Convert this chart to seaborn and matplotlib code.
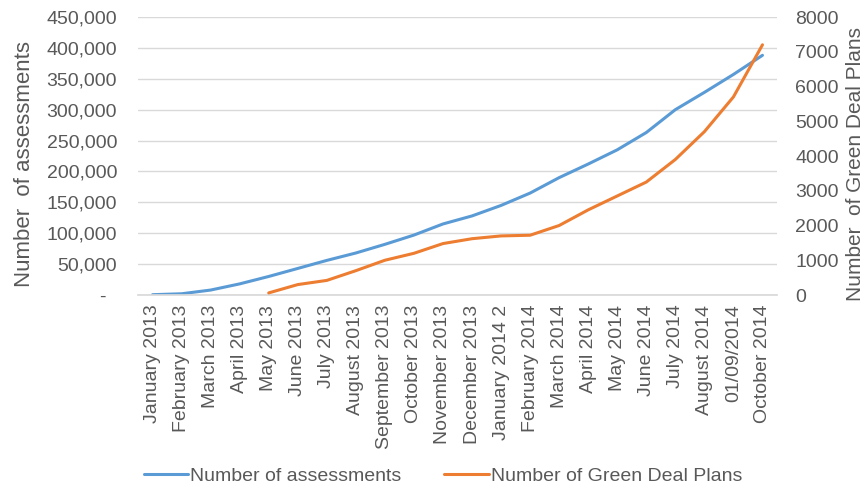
import matplotlib
matplotlib.use("Agg")
import matplotlib.pyplot as plt
import seaborn as sns
import pandas as pd
import numpy as np
from matplotlib.ticker import FuncFormatter, MultipleLocator

months = ["January 2013", "February 2013", "March 2013", "April 2013", "May 2013",
          "June 2013", "July 2013", "August 2013", "September 2013", "October 2013",
          "November 2013", "December 2013", "January 2014 2", "February 2014",
          "March 2014", "April 2014", "May 2014", "June 2014", "July 2014",
          "August 2014", "01/09/2014", "October 2014"]
assessments = [500, 2000, 8000, 18000, 30000, 43000, 56000, 68000, 82000, 97000,
               115000, 128000, 145000, 165000, 190000, 212000, 235000, 263000,
               300000, 328000, 357000, 388000]
gdp_plans = [np.nan, np.nan, np.nan, np.nan, 60, 300, 420, 700, 1000, 1200,
             1480, 1620, 1700, 1720, 2000, 2450, 2850, 3250, 3900, 4700, 5700, 7200]

sns.set_theme(style="white")
plt.rcParams['font.family'] = ['Liberation Sans', 'DejaVu Sans']
grey = "#595959"

df = pd.DataFrame({"x": np.arange(len(months)), "a": assessments, "g": gdp_plans})

W, H = 865, 490
fig = plt.figure(figsize=(W / 100, H / 100), dpi=100)
left, right, top, bottom = 138, 777, 17, 295
ax = fig.add_axes([left / W, 1 - bottom / H, (right - left) / W, (bottom - top) / H])
ax2 = ax.twinx()

blue = "#5B9BD5"
orange = "#ED7D31"
sns.lineplot(data=df, x="x", y="a", ax=ax, color=blue, lw=2.2,
             label="Number of assessments", legend=False)
sns.lineplot(data=df.dropna(), x="x", y="g", ax=ax2, color=orange, lw=2.2,
             label="Number of Green Deal Plans", legend=False)

ax.set_xlim(-0.5, len(months) - 0.5)
ax.set_ylim(0, 450000)
ax2.set_ylim(0, 8000)
ax.yaxis.set_major_locator(MultipleLocator(50000))
ax2.yaxis.set_major_locator(MultipleLocator(1000))
ax.yaxis.set_major_formatter(FuncFormatter(lambda v, p: "-  " if v == 0 else f"{int(v):,}"))
ax.set_xticks(df["x"])
ax.set_xticklabels(months, rotation=90, fontsize=14, color=grey)
ax.tick_params(axis="y", labelsize=14, colors=grey, length=0, pad=15)
ax.tick_params(axis="x", length=0, pad=7)
ax2.tick_params(axis="y", labelsize=14, colors=grey, length=0, pad=13)
ax.grid(axis="y", color="#D9D9D9", lw=1)
ax.set_xlabel("")
ax.set_ylabel("Number  of assessments", fontsize=16, color=grey, labelpad=8)
ax2.set_ylabel("Number  of Green Deal Plans", fontsize=15, color=grey, labelpad=5)
ax.yaxis.label.set_y(0.47)
ax2.yaxis.label.set_y(0.47)
for a in (ax, ax2):
    for s in a.spines.values():
        s.set_visible(False)
ax.spines["bottom"].set_visible(True)
ax.spines["bottom"].set_color("#D9D9D9")

h1, l1 = ax.get_legend_handles_labels()
h2, l2 = ax2.get_legend_handles_labels()
fig.legend(h1 + h2, l1 + l2, loc="center", bbox_to_anchor=(0.512, 0.029), ncol=2,
           frameon=False, fontsize=14, labelcolor=grey, handlelength=2.3,
           handletextpad=0.1, columnspacing=2.2, borderpad=0)

fig.savefig("out.png", dpi=100)
